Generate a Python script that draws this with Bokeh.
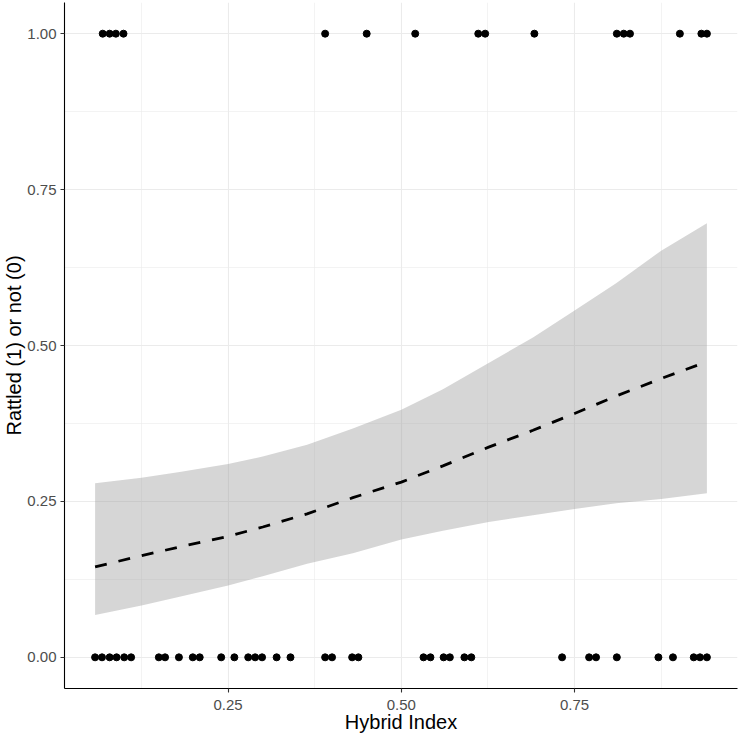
from bokeh.plotting import figure
from bokeh.models import Range1d, FixedTicker
from bokeh.embed import file_html
from bokeh.resources import INLINE

# Hybrid index of individuals that rattled (1) and that did not (0)
hi_rattled = [0.069, 0.079, 0.088, 0.099, 0.390, 0.450, 0.520, 0.611, 0.621,
              0.692, 0.811, 0.821, 0.830, 0.902, 0.933, 0.941]
hi_not = [0.058, 0.068, 0.079, 0.089, 0.100, 0.110, 0.150, 0.159, 0.179,
          0.199, 0.209, 0.240, 0.259, 0.279, 0.289, 0.299, 0.320, 0.340,
          0.390, 0.400, 0.429, 0.438, 0.532, 0.542, 0.561, 0.570, 0.591,
          0.601, 0.732, 0.771, 0.781, 0.811, 0.871, 0.892, 0.922, 0.931, 0.941]

# Fitted logistic curve with its confidence band
fit_x = [0.058, 0.125, 0.18, 0.25, 0.30, 0.364, 0.43, 0.5, 0.56, 0.626,
         0.69, 0.75, 0.81, 0.875, 0.941]
fit_y = [0.145, 0.163, 0.177, 0.194, 0.209, 0.230, 0.256, 0.281, 0.307,
         0.337, 0.364, 0.391, 0.419, 0.447, 0.474]
fit_lower = [0.068, 0.083, 0.097, 0.115, 0.130, 0.150, 0.167, 0.189, 0.203,
             0.217, 0.228, 0.238, 0.247, 0.254, 0.263]
fit_upper = [0.279, 0.288, 0.297, 0.310, 0.322, 0.341, 0.367, 0.397, 0.430,
             0.472, 0.513, 0.556, 0.600, 0.652, 0.696]

y_ticks = [0.0, 0.25, 0.5, 0.75, 1.0]
y_minor = [0.125, 0.375, 0.625, 0.875]
x_ticks = [0.25, 0.5, 0.75]
x_minor = [0.125, 0.375, 0.625, 0.875]

all_x = hi_rattled + hi_not
x_lo, x_hi = min(all_x), max(all_x)
x_pad = 0.05 * (x_hi - x_lo)

p = figure(width=739, height=739, output_backend="svg", toolbar_location=None,
           x_range=Range1d(x_lo - x_pad, x_hi + x_pad),
           y_range=Range1d(-0.05, 1.05))
p.min_border_left = 63
p.min_border_right = 2
p.min_border_top = 2
p.min_border_bottom = 51
p.outline_line_color = None
p.background_fill_color = "white"

# grid
for g, t, m in ((p.xgrid, x_ticks, x_minor), (p.ygrid, y_ticks, y_minor)):
    g.ticker = FixedTicker(ticks=t, minor_ticks=m)
    g.grid_line_color = "#EBEBEB"
    g.grid_line_width = 1.1
    g.minor_grid_line_color = "#EBEBEB"
    g.minor_grid_line_width = 0.6

p.xaxis.ticker = FixedTicker(ticks=x_ticks)
p.yaxis.ticker = FixedTicker(ticks=y_ticks)
p.xaxis.major_label_overrides = {v: f"{v:.2f}" for v in x_ticks}
p.yaxis.major_label_overrides = {v: f"{v:.2f}" for v in y_ticks}
p.yaxis.major_label_overrides[0.0] = "0.00"
p.yaxis.major_label_overrides[1.0] = "1.00"

p.xaxis.axis_label = "Hybrid Index"
p.yaxis.axis_label = "Rattled (1) or not (0)"
for ax in (p.xaxis[0], p.yaxis[0]):
    ax.axis_line_color = "black"
    ax.axis_line_width = 1.1
    ax.major_tick_line_color = "#333333"
    ax.major_tick_line_width = 1.1
    ax.major_tick_out = 4
    ax.major_tick_in = 0
    ax.minor_tick_line_color = None
    ax.major_label_text_font = "Liberation Sans"
    ax.major_label_text_font_size = "15px"
    ax.major_label_text_color = "#4D4D4D"
    ax.axis_label_text_font = "Liberation Sans"
    ax.axis_label_text_font_size = "20px"
    ax.axis_label_text_font_style = "normal"
    ax.axis_label_text_color = "black"
p.xaxis.major_label_standoff = 7
p.xaxis.axis_label_standoff = -2
p.yaxis.major_label_standoff = 4
p.yaxis.axis_label_standoff = -1

# confidence band and fitted curve
p.varea(x=fit_x, y1=fit_lower, y2=fit_upper, fill_color="#999999", fill_alpha=0.4)
p.line(fit_x, fit_y, line_color="black", line_width=2.8, line_dash="12 12")

# observations
p.scatter(hi_rattled, [1.0] * len(hi_rattled), size=7, color="black")
p.scatter(hi_not, [0.0] * len(hi_not), size=7, color="black")

open("out.html", "w").write(file_html(p, INLINE))
